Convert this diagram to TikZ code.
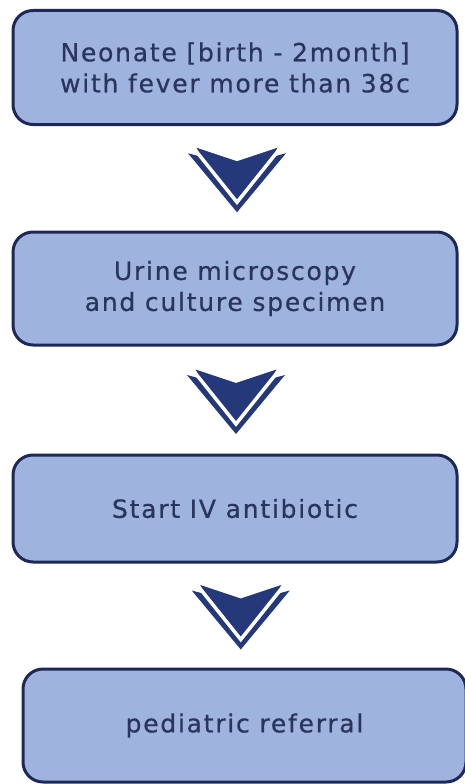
\documentclass[tikz,border=0pt]{standalone}
\usepackage{fontspec}
\setmainfont{DejaVu Sans}[LetterSpace=7, FakeBold=0.6]
\usetikzlibrary{calc}
\definecolor{boxfill}{RGB}{158,180,222}
\definecolor{boxline}{RGB}{30,40,88}
\definecolor{txtcol}{RGB}{42,52,92}
\definecolor{navy}{RGB}{36,56,122}
\tikzset{
  flowbox/.style={draw=boxline, line width=3pt, fill=boxfill, rounded corners=20pt,
    text=txtcol, align=center, inner sep=0pt,
    font=\fontsize{25}{31}\selectfont},
  chev/.pic={
    \fill[navy] (-49,-25) -- (0,-12) -- (49,-25) -- (0,34) -- cycle;
    \filldraw[navy, draw=white, line width=3.5pt, line join=miter]
      (-45,-34) -- (0,-19) -- (45,-34) -- (40,-26) -- (0,24) -- (-40,-26) -- cycle;
  }
}
\begin{document}
\begin{tikzpicture}[x=1pt,y=-1pt]
\useasboundingbox (0,0) rectangle (465,784);
\clip (0,0) rectangle (465,784);
\fill[white] (0,0) rectangle (465,784);
\node[flowbox, minimum width=444pt, minimum height=114pt] (n1) at (235,67.5)
  {Neonate [birth - 2month]\\with fever more than 38c};
\node[flowbox, minimum width=444pt, minimum height=113pt] (n2) at (235,288.5)
  {Urine microscopy\\and culture specimen};
\node[flowbox, minimum width=444pt, minimum height=107pt] (n3) at (235,508.5)
  {Start IV antibiotic};
\node[flowbox, minimum width=443pt, minimum height=113pt] (n4) at (244.5,725.5)
  {pediatric referral};
\pic at ($(n1.south)!0.5!(n2.north)+(2,0)$) {chev};
\pic at ($(n2.south)!0.5!(n3.north)+(1,0)$) {chev};
\pic at ($(n3.south)!0.5!(n4.north)+(1,0)$) {chev};
\end{tikzpicture}
\end{document}
